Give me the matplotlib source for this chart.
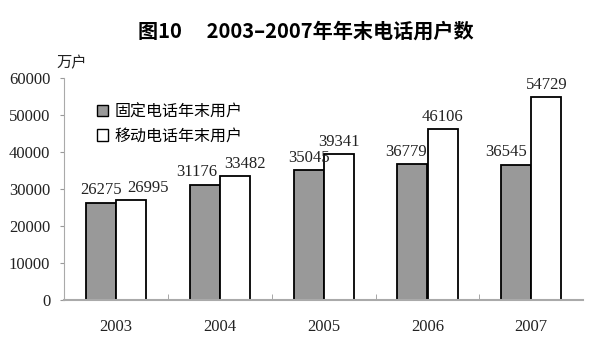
import numpy as np
import matplotlib.pyplot as plt
from matplotlib.patches import Patch

years = ['2003', '2004', '2005', '2006', '2007']
fixed_users = [26275, 31176, 35045, 36779, 36545]
mobile_users = [26995, 33482, 39341, 46106, 54729]
series_names = ['固定电话年末用户', '移动电话年末用户']

# horizontal nudges (points) so neighbouring value labels don't collide
fixed_shift = [0, -6, 0, -5, -7]
mobile_shift = [12, 7, 0, 0, 0]

plt.rcParams['font.family'] = ['Liberation Serif', 'Noto Sans CJK SC']

fig = plt.figure(figsize=(6, 3.54), dpi=100)
ax = fig.add_axes([0.107, 0.153, 0.865, 0.627])

x = np.arange(len(years))
w = 0.29
b1 = ax.bar(x - w / 2, fixed_users, w, color='#999999', edgecolor='black', linewidth=1.3)
b2 = ax.bar(x + w / 2, mobile_users, w, color='white', edgecolor='black', linewidth=1.3)

for bars, vals, shifts in [(b1, fixed_users, fixed_shift), (b2, mobile_users, mobile_shift)]:
    for rect, v, dx in zip(bars, vals, shifts):
        ax.annotate(str(v), (rect.get_x() + rect.get_width() / 2, v),
                    xytext=(dx, 3), textcoords='offset points',
                    ha='center', va='bottom', fontsize=12, color='#222222')

ax.set_xlim(-0.5, len(years) - 0.5)
ax.set_ylim(0, 60000)
ax.set_yticks(range(0, 60001, 10000))
ax.set_xticks(x)
ax.set_xticklabels(years, fontsize=12, color='#222222')
ax.tick_params(axis='y', labelsize=12, labelcolor='#222222', length=3, pad=7, color='#999999')
ax.tick_params(axis='x', length=0, pad=14)
# small separators between categories
ax.set_xticks(np.arange(0.5, len(years) - 0.5, 1), minor=True)
ax.tick_params(axis='x', which='minor', direction='in', length=4, color='#999999')

for s in ['top', 'right']:
    ax.spines[s].set_visible(False)
ax.spines['left'].set_color('#aaaaaa')
ax.spines['bottom'].set_color('#aaaaaa')
ax.spines['bottom'].set_linewidth(1.5)

handles = [Patch(facecolor='#999999', edgecolor='black'),
           Patch(facecolor='white', edgecolor='black')]
ax.legend(handles, series_names, loc='upper left', bbox_to_anchor=(0.035, 0.95),
          frameon=False, handlelength=0.7, handleheight=0.7,
          handletextpad=0.4, labelspacing=0.45,
          prop={'family': 'Noto Sans CJK SC', 'size': 11.5})

fig.text(0.12, 0.81, '万户', fontsize=11, family='Noto Sans CJK SC', ha='center', color='#222222')
fig.text(0.51, 0.895, '图10\u2003 2003–2007年年末电话用户数', fontsize=14.5, fontweight='bold',
         family=['Noto Sans CJK SC', 'DejaVu Sans'], ha='center')

fig.savefig('out.png', dpi=100)
